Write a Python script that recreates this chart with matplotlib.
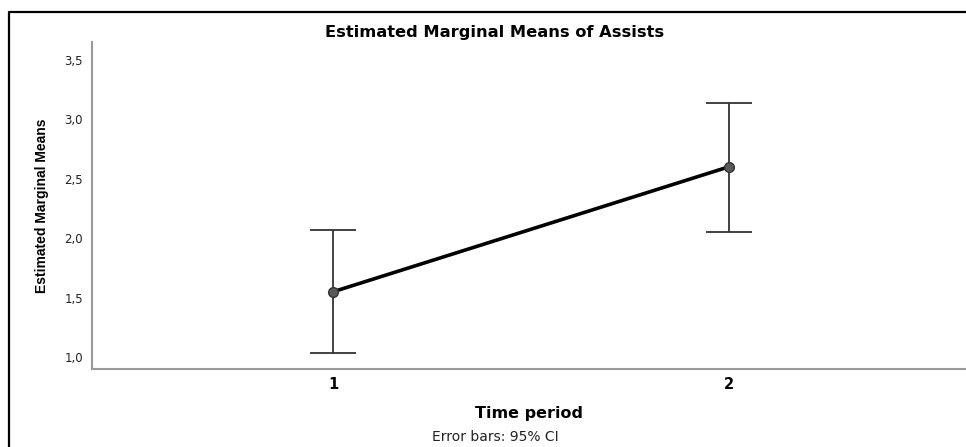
import matplotlib
matplotlib.use('Agg')
import matplotlib.pyplot as plt
from matplotlib.ticker import FuncFormatter
from matplotlib.lines import Line2D

# data
periods = [1, 2]
period_labels = ['1', '2']
means = [1.55, 2.60]
ci_low = [1.035, 2.05]
ci_high = [2.065, 3.14]
yticks = [1.0, 1.5, 2.0, 2.5, 3.0, 3.5]

plt.rcParams['font.family'] = ['DejaVu Sans']

fig = plt.figure(figsize=(9.66, 4.47), dpi=100)
ax = fig.add_axes([92 / 966, 1 - 369 / 447, 1 - 92 / 966, (369 - 42) / 447])

err = [[m - lo for m, lo in zip(means, ci_low)],
       [hi - m for m, hi in zip(means, ci_high)]]
ax.errorbar(periods, means, yerr=err, fmt='none', ecolor='#333333',
            elinewidth=1.3, capsize=16.5, capthick=1.3, zorder=2)
ax.plot(periods, means, color='black', lw=2.6, zorder=3)
ax.plot(periods, means, 'o', ms=7, mfc='#5a5a5a', mec='#333333', mew=1, zorder=4)

ax.set_xlim(0.39, 2.60)
ax.set_ylim(0.9, 3.65)
ax.set_xticks(periods)
ax.set_xticklabels(period_labels, fontsize=10.5, fontweight='bold')
ax.set_yticks(yticks)
ax.yaxis.set_major_formatter(FuncFormatter(lambda v, p: f'{v:.1f}'.replace('.', ',')))
ax.tick_params(axis='y', length=0, labelsize=8.5, pad=6.5, labelcolor='#222222')
ax.tick_params(axis='x', length=0, pad=6)

for s in ['top', 'right']:
    ax.spines[s].set_visible(False)
for s in ['left', 'bottom']:
    ax.spines[s].set_color('#999999')
    ax.spines[s].set_linewidth(1.5)

ax.set_xlabel('Time period', fontsize=11.5, fontweight='bold', labelpad=10)
ax.set_ylabel('Estimated Marginal Means', fontsize=10, fontweight='bold',
              family=['Liberation Sans', 'DejaVu Sans'], labelpad=11)

fig.text(495 / 966, 1 - 32 / 447, 'Estimated Marginal Means of Assists',
         ha='center', va='center', fontsize=11.7, fontweight='bold')
fig.text(495 / 966, 1 - 437 / 447, 'Error bars: 95% CI', ha='center', va='center',
         fontsize=10, color='#222222')

# screenshot frame (left and top edges)
fig.add_artist(Line2D([9 / 966, 9 / 966, 1.0], [0.0, 1 - 12 / 447, 1 - 12 / 447],
                      transform=fig.transFigure, color='black', lw=1.6))

fig.savefig('out.png', dpi=100)
